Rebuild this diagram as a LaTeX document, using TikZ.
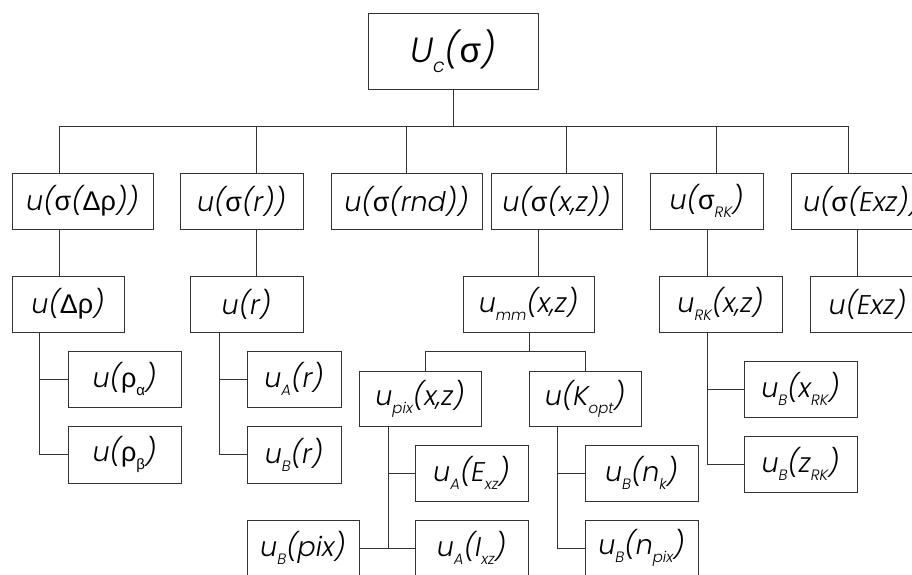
\documentclass[tikz,border=0pt]{standalone}
\usepackage{fontspec}
\setmainfont{Poppins}[UprightFont=* Light, ItalicFont=* Light Italic]
\newfontfamily\gkfont{Liberation Sans}
\newcommand\gk[1]{{\gkfont\upshape #1}}
\newcommand\lo[1]{\raisebox{-0.3em}{\fontsize{15}{15}\selectfont #1}}
\newcommand\lobig[1]{\raisebox{-0.3em}{\fontsize{19}{19}\selectfont #1}}
\begin{document}
\begin{tikzpicture}[x=1pt,y=-1pt,
  box/.style={draw=black!80, line width=1pt, inner sep=0pt, fill=white,
    minimum height=56pt, font=\fontsize{27}{27}\selectfont\itshape},
  conn/.style={draw=black!80, line width=1pt}]
\useasboundingbox (0,0) rectangle (912,574);
\clip (0,0) rectangle (912,574);
% root
\node[box, minimum width=170pt, minimum height=76pt, font=\fontsize{35}{35}\selectfont\itshape] (root) at (453,51) {U\lobig{c}(\gk{σ})};
% level A
\node[box, minimum width=141pt] (A1) at (82.5,201) {u(\gk{σ}(\gk{Δρ}))};
\node[box, minimum width=123pt] (A2) at (241.5,201) {u(\gk{σ}(r))};
\node[box, minimum width=151pt] (A3) at (406.5,201) {u(\gk{σ}(rnd))};
\node[box, minimum width=131pt] (A4) at (556.5,201) {u(\gk{σ}(x,z))};
\node[box, minimum width=113pt] (A5) at (706.5,201) {u(\gk{σ}\lo{RK})};
\node[box, minimum width=141pt] (A6) at (861.5,201) {u(\gk{σ}(Exz))};
% level B
\node[box, minimum width=112pt] (B1) at (68,304) {u(\gk{Δρ})};
\node[box, minimum width=113pt] (B2) at (246.5,304) {u(r)};
\node[box, minimum width=131pt] (B4) at (528.5,304) {u\lo{mm}(x,z)};
\node[box, minimum width=123pt] (B5) at (720.5,304) {u\lo{RK}(x,z)};
\node[box, minimum width=115pt] (B6) at (867.5,304) {u(Exz)};
% level C
\node[box, minimum width=113pt] (C1) at (124.5,379) {u(\gk{ρ}\lo{\gk{α}})};
\node[box, minimum width=113pt, minimum height=57pt] (C2) at (124.5,454.5) {u(\gk{ρ}\lo{\gk{β}})};
\node[box, minimum width=94pt] (C3) at (294,379) {u\lo{A}(r)};
\node[box, minimum width=94pt, minimum height=57pt] (C4) at (294,454.5) {u\lo{B}(r)};
\node[box, minimum width=122pt, minimum height=55pt] (D1) at (420,398.5) {u\lo{pix}(x,z)};
\node[box, minimum width=112pt, minimum height=55pt] (D2) at (585,398.5) {u(K\lo{opt})};
\node[box, minimum width=113pt] (E1) at (471.5,473) {u\lo{A}(E\lo{xz})};
\node[box, minimum width=113pt] (E2) at (471.5,548) {u\lo{A}(I\lo{xz})};
\node[box, minimum width=112pt] (E3) at (303,548) {u\lo{B}(pix)};
\node[box, minimum width=113pt] (E4) at (641.5,473) {u\lo{B}(n\lo{k})};
\node[box, minimum width=113pt] (E5) at (641.5,548) {u\lo{B}(n\lo{pix})};
\node[box, minimum width=113pt] (F1) at (800.5,389) {u\lo{B}(x\lo{RK})};
\node[box, minimum width=113pt] (F2) at (800.5,464) {u\lo{B}(z\lo{RK})};
% top bar
\coordinate (bar) at (453,126);
\coordinate (t1) at (59,126);
\coordinate (t2) at (256,126);
\coordinate (t3) at (406,126);
\coordinate (t4) at (566,126);
\coordinate (t5) at (716,126);
\coordinate (t6) at (848,126);
\draw[conn] (root.south) -- (bar);
\draw[conn] (t1) -- (t6);
\foreach \i in {1,...,6} {\draw[conn] (t\i) -- (t\i |- A\i.north);}
% A -> B
\coordinate (ab1) at (59,0);
\coordinate (ab2) at (256,0);
\coordinate (ab4) at (538,0);
\coordinate (ab5) at (707,0);
\coordinate (ab6) at (857,0);
\foreach \i in {1,2,4,5,6} {\draw[conn] (ab\i |- A\i.south) -- (ab\i |- B\i.north);}
% B1 children
\coordinate (v1) at (39,0);
\draw[conn] (v1 |- B1.south) |- (C2.west);
\draw[conn] (v1 |- C1.west) -- (C1.west);
% B2 children
\coordinate (v2) at (219,0);
\draw[conn] (v2 |- B2.south) |- (C4.west);
\draw[conn] (v2 |- C3.west) -- (C3.west);
% B4 children
\coordinate (fork) at (529,351);
\coordinate (forkL) at (425,351);
\coordinate (forkR) at (585,351);
\draw[conn] (fork |- B4.south) -- (fork);
\draw[conn] (forkL |- D1.north) -- (forkL) -- (forkR) -- (D2.north);
% D1 children
\coordinate (v3) at (388,0);
\draw[conn] (v3 |- D1.south) -- (v3 |- E2.west);
\draw[conn] (E3.east) -- (E2.west);
\draw[conn] (v3 |- E1.west) -- (E1.west);
% D2 children
\coordinate (v4) at (557,0);
\draw[conn] (v4 |- D2.south) |- (E5.west);
\draw[conn] (v4 |- E4.west) -- (E4.west);
% B5 children
\coordinate (v5) at (707,0);
\draw[conn] (v5 |- B5.south) |- (F2.west);
\draw[conn] (v5 |- F1.west) -- (F1.west);
\end{tikzpicture}
\end{document}
